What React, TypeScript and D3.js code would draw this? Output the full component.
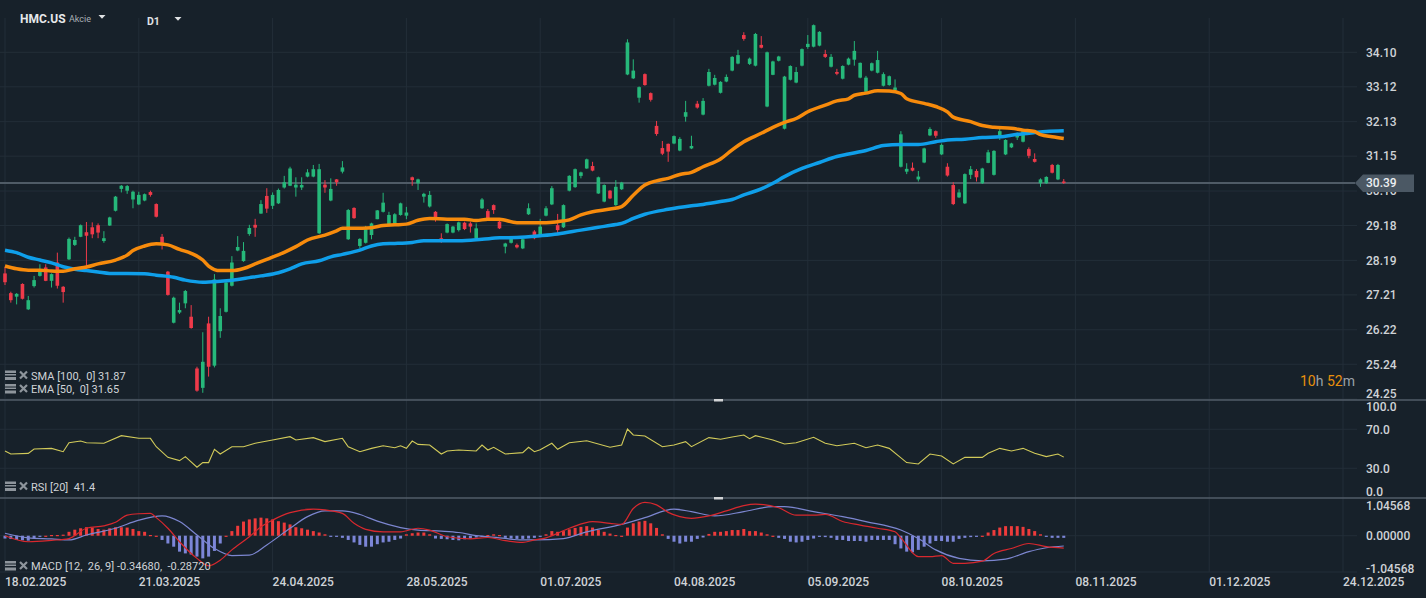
import React from 'react';
import * as d3 from 'd3';

// ---- data (HMC.US, D1) ----
const dateLabels = ['18.02.2025', '21.03.2025', '24.04.2025', '28.05.2025', '01.07.2025', '04.08.2025',
  '05.09.2025', '08.10.2025', '08.11.2025', '01.12.2025', '24.12.2025'];
const priceTicks = [34.10, 33.12, 32.13, 31.15, 30.16, 29.18, 28.19, 27.21, 26.22, 25.24, 24.25];
const rsiTicks = [100, 70, 30, 0];
const macdTicks = [1.04568, 0, -1.04568];

const open = [27.82, 27.26, 27.16, 27.52, 26.80, 27.46, 27.75, 27.99, 27.61, 28.13, 27.44, 28.22, 28.63, 28.86, 28.99, 29.13, 29.19, 28.74, 29.18, 29.60,
  30.22, 30.17, 29.92, 29.78, 29.89, 30.13, 29.79, 28.86, 27.87, 26.42, 26.71, 26.97, 26.59, 25.12, 24.57, 26.40, 25.20, 26.18, 26.73, 27.47,
  28.47, 28.17, 28.94, 29.20, 29.52, 30.02, 29.74, 29.81, 30.26, 30.31, 30.26, 30.26, 30.57, 30.57, 28.96, 30.34, 29.89, 30.49, 30.71, 28.79,
  29.68, 28.60, 28.69, 28.91, 29.36, 29.57, 29.22, 29.22, 29.48, 29.46, 30.55, 30.38, 30.00, 29.72, 29.57, 28.82, 28.98, 28.98, 29.05, 29.26,
  29.24, 28.82, 29.67, 29.59, 29.76, 29.29, 28.58, 28.69, 28.63, 28.53, 29.50, 29.01, 28.91, 29.46, 29.78, 29.19, 29.13, 30.17, 30.27, 30.59,
  30.80, 30.87, 30.09, 29.86, 30.17, 29.76, 30.21, 33.47, 33.36, 32.81, 33.48, 32.94, 32.01, 31.38, 31.50, 31.51, 31.31, 32.27, 31.37, 32.64,
  32.33, 33.15, 33.18, 32.95, 33.27, 33.58, 33.78, 34.59, 33.77, 33.72, 34.31, 32.56, 33.46, 33.86, 31.93, 33.32, 33.24, 33.72, 34.25, 34.26,
  34.29, 34.05, 33.69, 33.54, 33.35, 33.75, 33.89, 33.38, 32.98, 33.58, 33.52, 33.15, 33.17, 33.03, 30.85, 30.71, 30.82, 30.49, 30.97, 31.74,
  31.86, 31.20, 30.85, 30.33, 29.98, 29.81, 30.62, 30.73, 30.38, 30.96, 30.62, 31.72, 31.20, 31.40, 31.68, 31.56, 31.35, 31.07, 30.38, 30.38,
  30.90, 30.49, 30.43];
const high = [28.01, 27.30, 27.26, 27.54, 27.18, 27.75, 28.08, 28.08, 27.82, 28.41, 27.46, 28.84, 28.86, 29.21, 29.28, 29.27, 29.24, 29.02, 29.43, 30.02,
  30.33, 30.33, 30.17, 30.14, 30.09, 30.17, 29.81, 28.94, 27.89, 27.16, 26.99, 27.35, 26.92, 25.17, 26.15, 26.59, 27.80, 26.83, 27.59, 28.31,
  28.88, 28.71, 29.20, 29.37, 29.90, 30.24, 30.12, 30.23, 30.59, 30.85, 30.55, 30.55, 30.78, 30.90, 30.93, 30.47, 30.52, 30.50, 31.01, 29.65,
  29.70, 28.82, 29.17, 29.26, 29.62, 30.11, 29.57, 29.53, 29.83, 29.71, 30.57, 30.51, 30.11, 30.16, 29.59, 28.96, 29.24, 29.17, 29.29, 29.29,
  29.29, 29.24, 29.96, 29.65, 29.78, 29.31, 28.69, 28.88, 28.67, 28.82, 29.81, 29.05, 29.37, 29.73, 30.30, 29.51, 29.78, 30.61, 30.80, 30.71,
  31.08, 30.99, 30.57, 30.35, 30.19, 30.47, 30.42, 34.47, 33.90, 33.13, 33.50, 32.96, 32.15, 31.58, 31.51, 31.74, 31.69, 32.72, 31.73, 32.72,
  32.80, 33.63, 33.46, 33.28, 33.47, 33.99, 34.17, 34.67, 33.95, 34.65, 34.56, 34.12, 33.86, 34.00, 33.43, 33.73, 33.68, 34.21, 34.59, 34.89,
  34.70, 34.17, 34.05, 33.63, 33.73, 33.95, 34.42, 33.81, 33.43, 33.81, 34.14, 33.53, 33.44, 33.33, 31.86, 30.95, 30.97, 30.73, 31.39, 31.97,
  31.88, 31.51, 30.95, 30.41, 30.21, 30.66, 30.87, 30.78, 30.82, 31.33, 31.32, 31.94, 31.63, 31.53, 31.82, 31.91, 31.40, 31.23, 30.52, 30.58,
  30.93, 30.93, 30.50];
const low = [27.49, 26.99, 26.94, 27.08, 26.78, 27.42, 27.73, 27.60, 27.42, 27.39, 26.99, 28.20, 28.60, 28.85, 27.92, 28.82, 28.82, 28.69, 29.17, 29.58,
  30.12, 30.08, 29.67, 29.76, 29.87, 30.00, 29.41, 28.50, 27.19, 26.40, 26.67, 26.83, 26.25, 24.46, 24.43, 24.89, 25.15, 25.99, 26.71, 27.45,
  28.45, 28.15, 28.89, 28.86, 29.51, 29.54, 29.65, 29.79, 30.23, 30.30, 30.00, 30.19, 30.55, 30.55, 28.94, 30.11, 29.87, 30.31, 30.66, 28.77,
  29.37, 28.53, 28.67, 28.79, 29.36, 29.55, 29.20, 29.20, 29.46, 29.36, 30.31, 30.19, 29.83, 29.69, 29.29, 28.69, 28.96, 28.96, 29.01, 29.05,
  28.98, 28.79, 29.65, 29.36, 29.51, 29.08, 28.39, 28.67, 28.53, 28.51, 29.48, 28.79, 28.89, 29.44, 29.76, 28.96, 29.11, 30.15, 30.25, 30.52,
  30.79, 30.72, 30.08, 29.84, 29.93, 29.74, 30.19, 33.45, 33.34, 32.67, 33.15, 32.70, 31.73, 31.18, 30.99, 31.49, 31.29, 32.13, 31.35, 32.50,
  32.31, 33.13, 33.16, 32.93, 33.25, 33.56, 33.76, 34.43, 33.74, 33.70, 34.21, 32.54, 33.45, 33.84, 31.91, 33.30, 33.22, 33.70, 34.20, 34.24,
  34.27, 33.94, 33.67, 33.45, 33.33, 33.73, 33.72, 33.36, 32.96, 33.56, 33.50, 33.13, 33.15, 33.01, 30.83, 30.64, 30.72, 30.43, 30.95, 31.72,
  31.67, 31.18, 30.57, 29.76, 29.96, 29.79, 30.50, 30.43, 30.36, 30.95, 30.60, 31.61, 31.18, 31.38, 31.61, 31.54, 31.09, 30.97, 30.28, 30.36,
  30.66, 30.47, 30.36];
const close = [27.57, 27.06, 27.24, 27.10, 27.06, 27.63, 27.94, 27.61, 27.80, 27.47, 27.29, 28.80, 28.77, 29.19, 28.89, 28.93, 28.98, 28.82, 29.41, 30.00,
  30.31, 30.30, 30.14, 30.05, 30.07, 30.05, 29.43, 28.69, 27.21, 27.13, 26.78, 27.32, 26.27, 24.49, 25.31, 25.17, 27.65, 26.61, 27.56, 28.13,
  28.57, 28.46, 29.11, 29.12, 29.79, 29.66, 30.05, 30.19, 30.41, 30.80, 30.34, 30.33, 30.69, 30.78, 30.78, 30.26, 30.22, 30.41, 30.83, 29.62,
  29.39, 28.80, 29.13, 29.24, 29.61, 29.83, 29.48, 29.50, 29.81, 29.55, 30.47, 30.49, 30.08, 30.05, 29.38, 28.72, 29.22, 29.15, 29.27, 29.08,
  29.15, 29.10, 29.92, 29.38, 29.62, 29.10, 28.67, 28.86, 28.56, 28.79, 29.67, 28.82, 29.15, 29.67, 30.24, 29.05, 29.76, 30.59, 30.78, 30.69,
  31.06, 30.74, 30.55, 30.33, 29.95, 30.28, 30.40, 34.38, 33.58, 33.11, 33.17, 32.75, 31.78, 31.22, 31.28, 31.72, 31.64, 32.40, 31.44, 32.53,
  32.72, 33.54, 33.37, 33.26, 33.40, 33.97, 34.02, 34.48, 33.92, 34.62, 34.23, 34.10, 33.84, 33.98, 33.41, 33.71, 33.54, 34.19, 34.34, 34.87,
  34.68, 33.97, 33.97, 33.49, 33.71, 33.92, 34.14, 33.80, 33.38, 33.79, 33.88, 33.48, 33.42, 33.10, 31.77, 30.79, 30.74, 30.57, 31.37, 31.92,
  31.73, 31.47, 30.60, 29.79, 30.12, 30.64, 30.78, 30.55, 30.80, 31.26, 31.30, 31.86, 31.61, 31.51, 31.75, 31.89, 31.16, 30.99, 30.49, 30.56,
  30.68, 30.90, 30.39];

// SMA 100 and EMA 50 read as [bar, value]
const sma100: [number, number][] = [[0, 28.48], [2, 28.41], [4, 28.28], [6, 28.20], [8, 28.12], [10, 28.01], [12, 27.94], [14, 27.90], [16, 27.86],
  [18, 27.82], [21, 27.82], [24, 27.81], [26, 27.77], [29, 27.71], [31, 27.63], [34, 27.57], [37, 27.60], [40, 27.65], [42, 27.70], [44, 27.75],
  [47, 27.84], [49, 27.95], [51, 28.09], [54, 28.18], [56, 28.29], [58, 28.36], [61, 28.48], [63, 28.60], [65, 28.66], [67, 28.67], [70, 28.70],
  [72, 28.75], [75, 28.75], [78, 28.75], [82, 28.79], [85, 28.83], [88, 28.84], [92, 28.89], [95, 28.94], [99, 29.05], [102, 29.13], [105, 29.21],
  [106, 29.24], [108, 29.38], [110, 29.50], [114, 29.64], [118, 29.74], [120, 29.78], [123, 29.86], [125, 29.92], [127, 30.05], [130, 30.22],
  [132, 30.38], [134, 30.57], [137, 30.80], [140, 30.97], [143, 31.14], [145, 31.21], [148, 31.31], [151, 31.45], [154, 31.48], [157, 31.48],
  [160, 31.56], [162, 31.61], [165, 31.63], [168, 31.68], [171, 31.70], [174, 31.77], [177, 31.82], [179, 31.85], [182, 31.87]];
const ema50: [number, number][] = [[0, 28.03], [2, 27.95], [4, 27.91], [6, 27.91], [8, 27.89], [10, 27.88], [12, 27.95], [14, 28.00], [16, 28.09],
  [19, 28.20], [21, 28.34], [22, 28.47], [24, 28.60], [26, 28.66], [28, 28.63], [30, 28.50], [32, 28.39], [34, 28.20], [35, 28.03], [37, 27.90],
  [39, 27.90], [41, 27.96], [43, 28.09], [45, 28.22], [48, 28.42], [50, 28.58], [52, 28.77], [55, 28.91], [57, 29.03], [58, 29.10], [60, 29.10],
  [63, 29.12], [65, 29.18], [67, 29.20], [69, 29.22], [71, 29.33], [73, 29.38], [76, 29.36], [79, 29.36], [81, 29.32], [83, 29.36], [85, 29.36],
  [88, 29.26], [91, 29.26], [93, 29.26], [95, 29.29], [97, 29.34], [99, 29.48], [101, 29.57], [104, 29.65], [106, 29.72], [108, 30.04],
  [110, 30.33], [112, 30.45], [114, 30.52], [116, 30.63], [118, 30.69], [120, 30.85], [123, 31.07], [125, 31.33], [127, 31.56], [130, 31.80],
  [132, 31.97], [134, 32.11], [136, 32.22], [138, 32.41], [141, 32.60], [143, 32.72], [145, 32.78], [146, 32.88], [148, 32.94], [150, 33.01],
  [152, 33.00], [154, 32.93], [155, 32.78], [158, 32.65], [160, 32.56], [162, 32.41], [163, 32.26], [166, 32.13], [168, 32.02], [170, 31.97],
  [173, 31.94], [175, 31.89], [177, 31.85], [178, 31.76], [180, 31.70], [182, 31.65]];

// RSI 20
const rsi20: [number, number][] = [[0, 47.7], [1, 44.6], [4, 45.3], [5, 49.7], [8, 50.4], [10, 47.0], [11, 56.2], [13, 57.9], [14, 56.2], [17, 55.6],
  [20, 63.4], [23, 60.7], [25, 60.7], [26, 52.1], [28, 41.2], [30, 37.8], [31, 41.9], [33, 31.0], [34, 35.8], [35, 35.8], [36, 49.4], [37, 44.6],
  [39, 52.1], [41, 52.1], [43, 55.6], [46, 59.0], [49, 62.4], [50, 59.0], [53, 61.4], [55, 57.3], [58, 60.7], [59, 52.1], [61, 47.0], [63, 50.4],
  [65, 53.1], [67, 51.1], [68, 53.1], [69, 50.4], [70, 57.9], [71, 54.5], [73, 53.8], [75, 44.6], [76, 47.7], [78, 48.7], [81, 47.7], [82, 53.8],
  [83, 48.7], [84, 51.5], [86, 44.6], [89, 46.0], [90, 51.5], [91, 47.0], [92, 49.0], [94, 55.6], [95, 49.4], [97, 56.2], [100, 58.2], [104, 51.5],
  [106, 53.8], [107, 70.2], [108, 64.1], [110, 63.1], [113, 52.1], [115, 53.8], [117, 57.3], [118, 52.1], [121, 61.4], [123, 59.7], [125, 62.1],
  [127, 64.1], [128, 60.3], [129, 63.4], [132, 59.0], [134, 54.9], [136, 56.2], [139, 61.7], [141, 55.6], [143, 53.1], [146, 55.6], [148, 51.1],
  [150, 53.8], [152, 50.4], [155, 35.8], [157, 34.4], [159, 44.6], [161, 42.6], [163, 34.4], [165, 41.2], [168, 41.2], [169, 45.3], [171, 50.4],
  [173, 47.7], [175, 50.4], [177, 45.3], [179, 41.9], [181, 44.6], [182, 41.4]];

// MACD 12,26,9
const macdLine: [number, number][] = [[0, 0.0], [4, -0.17], [8, -0.13], [11, -0.08], [14, 0.21], [17, 0.28], [19, 0.38], [21, 0.58], [23, 0.62],
  [25, 0.63], [26, 0.51], [28, 0.21], [30, -0.17], [33, -0.64], [35, -0.85], [37, -0.69], [39, -0.40], [42, -0.03], [44, 0.25], [46, 0.44],
  [49, 0.65], [53, 0.75], [55, 0.73], [58, 0.63], [60, 0.35], [62, 0.18], [65, 0.11], [68, 0.11], [71, 0.21], [73, 0.16], [76, -0.03], [80, -0.09],
  [83, -0.05], [86, -0.14], [89, -0.19], [91, -0.12], [93, -0.06], [97, 0.21], [101, 0.40], [104, 0.35], [106, 0.32], [108, 0.77], [110, 0.94],
  [112, 0.87], [114, 0.66], [116, 0.54], [118, 0.49], [121, 0.56], [124, 0.70], [127, 0.85], [129, 0.89], [133, 0.79], [136, 0.58], [139, 0.58],
  [141, 0.60], [144, 0.40], [147, 0.30], [150, 0.21], [153, 0.11], [154, -0.06], [157, -0.59], [159, -0.59], [161, -0.56], [163, -0.78],
  [165, -0.78], [168, -0.72], [170, -0.50], [173, -0.36], [176, -0.22], [179, -0.31], [182, -0.35]];
const signalLine: [number, number][] = [[0, 0.07], [4, -0.06], [8, -0.09], [11, -0.12], [14, 0.02], [19, 0.21], [23, 0.44], [27, 0.56], [30, 0.40],
  [33, 0.02], [36, -0.36], [39, -0.56], [42, -0.55], [45, -0.26], [49, 0.21], [52, 0.54], [55, 0.70], [58, 0.70], [61, 0.60], [64, 0.41],
  [68, 0.23], [71, 0.16], [75, 0.13], [78, 0.09], [81, 0.0], [85, -0.06], [89, -0.12], [91, -0.12], [96, -0.08], [100, 0.11], [106, 0.32],
  [110, 0.51], [115, 0.75], [118, 0.68], [122, 0.56], [127, 0.68], [132, 0.82], [134, 0.82], [139, 0.68], [144, 0.54], [148, 0.40], [154, 0.16],
  [157, -0.08], [160, -0.40], [164, -0.64], [168, -0.71], [172, -0.66], [176, -0.45], [179, -0.34], [182, -0.29]];
const macdHist = [-0.08, -0.09, -0.12, -0.13, -0.14, -0.08, -0.03, 0.0, 0.02, 0.02, 0.03,
  0.11, 0.17, 0.21, 0.24, 0.23, 0.19, 0.17, 0.21, 0.24, 0.24, 0.23, 0.19, 0.13, 0.11, 0.02, 0.0,
  -0.12, -0.22, -0.31, -0.45, -0.50, -0.53, -0.59, -0.64, -0.59, -0.43, -0.22, 0.0,
  0.13, 0.28, 0.40, 0.46, 0.49, 0.51, 0.49, 0.46, 0.41, 0.37, 0.32, 0.24, 0.21, 0.17, 0.13, 0.09, 0.04, -0.02,
  -0.03, -0.06, -0.12, -0.19, -0.26, -0.31, -0.31, -0.24, -0.19, -0.17, -0.12, -0.08,
  0.04, 0.07, 0.09, 0.09, 0.04, -0.08, -0.09, -0.10, -0.12, -0.13, -0.10, -0.08, -0.05, -0.02,
  0.02, 0.04, 0.02, -0.06, -0.08, -0.09, -0.09, -0.08, -0.06, -0.03,
  0.04, 0.13, 0.11, 0.13, 0.18, 0.22, 0.25, 0.27, 0.23, 0.16, 0.11, 0.06, 0.02, 0.0,
  0.23, 0.35, 0.40, 0.42, 0.35, 0.22, 0.04, -0.09, -0.17, -0.22, -0.17, -0.17, -0.09, -0.05,
  0.05, 0.11, 0.11, 0.13, 0.16, 0.16, 0.19, 0.13, 0.13, 0.09, 0.04, 0.0,
  -0.06, -0.09, -0.17, -0.19, -0.17, -0.12, -0.08, -0.02, -0.04, -0.06, -0.12, -0.12, -0.15, -0.15, -0.15, -0.17, -0.12,
  -0.12, -0.12, -0.12, -0.24, -0.36, -0.45, -0.47, -0.40, -0.31, -0.22, -0.15, -0.15, -0.17, -0.17, -0.09, -0.06, -0.04,
  -0.02, 0.0, 0.09, 0.16, 0.23, 0.27, 0.27, 0.27, 0.25, 0.19, 0.13, 0.04, -0.02, -0.06, -0.06, -0.06];

const BG = '#17212a';
const GRID = '#232e38';
const SEP = '#525d68';
const TXT = '#cfd3d7';
const UP = '#26b87a';
const DOWN = '#ef3a4a';
const FONT = 'Roboto, sans-serif';
const PRE = { whiteSpace: 'pre' as const };

const LegendIcon = ({ y }: { y: number }) => (
  <g fill="#8e959c">
    <rect x={5} y={y - 5} width={11} height={2.5} />
    <rect x={5} y={y - 1.5} width={11} height={1.5} />
    <rect x={5} y={y + 1.5} width={11} height={3} />
    <path d={`M20,${y - 4} L27,${y + 3} M27,${y - 4} L20,${y + 3}`} stroke="#8e959c" strokeWidth={2.2} />
  </g>
);

export default function App() {
  const W = 1426, H = 598;
  const plotRight = 1357;
  const x = d3.scaleLinear().domain([0, 230]).range([5, 1343]);
  const yP = d3.scaleLinear().domain([24.225, 35.074]).range([400, 18]);
  const yR = d3.scaleLinear().domain([0, 100]).range([497.5, 400]);
  const yM = d3.scaleLinear().domain([-1.025, 1.065]).range([572, 498]);

  const smooth = (ys: d3.ScaleLinear<number, number>) =>
    d3.line<[number, number]>().x(d => x(d[0])).y(d => ys(d[1])).curve(d3.curveMonotoneX);
  const rsiPath = d3.line<[number, number]>().x(d => x(d[0])).y(d => yR(d[1]))(rsi20) || '';

  const last = close[close.length - 1];
  const yLast = yP(last);

  return (
    <div style={{ position: 'absolute', left: 0, top: 0 }}>
      <svg width={W} height={H} style={{ display: 'block', fontFamily: FONT }}>
        <rect width={W} height={H} fill={BG} />

        {/* vertical grid */}
        {dateLabels.map((_, k) => (
          <line key={'vg' + k} x1={x(k * 23)} x2={x(k * 23)} y1={18} y2={572} stroke={GRID} strokeWidth={1} />
        ))}
        {/* price grid */}
        {priceTicks.map(t => (
          <line key={'pg' + t} x1={0} x2={plotRight} y1={yP(t)} y2={yP(t)} stroke={GRID} strokeWidth={1} />
        ))}
        {/* rsi grid */}
        {[70, 30].map(t => (
          <line key={'rg' + t} x1={0} x2={plotRight} y1={yR(t)} y2={yR(t)} stroke={GRID} strokeWidth={1} />
        ))}
        <line x1={0} x2={plotRight} y1={yM(0)} y2={yM(0)} stroke={GRID} strokeWidth={1} />
        <line x1={0} x2={plotRight} y1={572} y2={572} stroke={GRID} strokeWidth={1} />

        {/* current price line */}
        <line x1={0} x2={1355} y1={yLast} y2={yLast} stroke="#4f5b66" strokeWidth={2} />

        {/* candles */}
        {close.map((c, i) => {
          const o = open[i];
          const up = c >= o;
          const col = up ? UP : DOWN;
          const cx = x(i);
          const top = yP(Math.max(o, c));
          const bot = yP(Math.min(o, c));
          return (
            <g key={'c' + i}>
              <line x1={cx} x2={cx} y1={yP(high[i])} y2={yP(low[i])} stroke={col} strokeWidth={1} />
              <rect x={cx - 1.8} y={top} width={3.6} height={Math.max(1.2, bot - top)} fill={col} />
            </g>
          );
        })}

        {/* moving averages */}
        <path d={smooth(yP)(sma100) || ''} fill="none" stroke="#0f9fea" strokeWidth={3.5} strokeLinejoin="round" />
        <path d={smooth(yP)(ema50) || ''} fill="none" stroke="#f78b0c" strokeWidth={3.5} strokeLinejoin="round" />

        {/* price axis labels */}
        {priceTicks.map(t => (
          <text key={'pl' + t} x={1366} y={Math.min(yP(t), 394) + 4.3} fill={TXT} fontSize={12} fontWeight={500}>
            {t.toFixed(2)}
          </text>
        ))}
        {/* last price tag */}
        <path d={`M1355,${yLast} L1363,${yLast - 8.5} L1414,${yLast - 8.5} L1414,${yLast + 9} L1363,${yLast + 9} Z`} fill="#4b5864" />
        <text x={1366} y={yLast + 4.5} fill="#eef0f2" fontSize={12} fontWeight={500}>{last.toFixed(2)}</text>

        {/* header */}
        <text x={20} y={23} fill="#e6e8ea" fontSize={12} fontWeight={700}>HMC.US</text>
        <text x={69} y={22} fill="#a9afb5" fontSize={9}>Akcie</text>
        <path d="M98.5,15 L105.5,15 L102,18.8 Z" fill="#e0e2e4" />
        <text x={147} y={24.5} fill="#e0e2e4" fontSize={10.5} fontWeight={700}>D1</text>
        <path d="M174.5,17 L181.5,17 L178,20.8 Z" fill="#e0e2e4" />

        {/* countdown */}
        <text x={1300} y={385.5} fontSize={14} style={PRE}>
          <tspan fill="#e8900c">10</tspan><tspan fill="#9aa1a8">h </tspan>
          <tspan fill="#e8900c">52</tspan><tspan fill="#9aa1a8">m</tspan>
        </text>

        {/* main legends */}
        <LegendIcon y={375.5} />
        <text x={31} y={379.5} fill={TXT} fontSize={11} style={PRE}>{`SMA [100,  0] ${sma100[sma100.length - 1][1].toFixed(2)}`}</text>
        <LegendIcon y={389} />
        <text x={31} y={393} fill={TXT} fontSize={11} style={PRE}>{`EMA [50,  0] ${ema50[ema50.length - 1][1].toFixed(2)}`}</text>

        {/* panel separators */}
        <line x1={0} x2={W} y1={400} y2={400} stroke={SEP} strokeWidth={1.5} />
        <line x1={0} x2={W} y1={498} y2={498} stroke={SEP} strokeWidth={1.5} />
        <rect x={714} y={399} width={9} height={2.5} fill="#d2d4d6" />
        <rect x={714} y={497} width={9} height={2.5} fill="#d2d4d6" />

        {/* RSI */}
        <path d={rsiPath} fill="none" stroke="#d2cb5a" strokeWidth={1.1} />
        {rsiTicks.map(t => (
          <text key={'rl' + t} x={1366} y={Math.max(407, Math.min(yR(t), 492)) + 4.3} fill={TXT} fontSize={12} fontWeight={500}>
            {t.toFixed(1)}
          </text>
        ))}
        <LegendIcon y={486.5} />
        <text x={31} y={490.5} fill={TXT} fontSize={11} style={PRE}>{`RSI [20]  ${rsi20[rsi20.length - 1][1].toFixed(1)}`}</text>

        {/* MACD histogram */}
        {macdHist.map((v, i) => {
          const y0 = yM(Math.max(v, 0));
          const y1 = yM(Math.min(v, 0));
          return (
            <rect key={'h' + i} x={x(i) - 1.5} y={y0} width={3}
              height={Math.max(1.2, y1 - y0)} fill={v >= 0 ? '#ee3b3b' : '#7c86d8'} />
          );
        })}
        <path d={smooth(yM)(signalLine) || ''} fill="none" stroke="#7c86d0" strokeWidth={1.2} />
        <path d={smooth(yM)(macdLine) || ''} fill="none" stroke="#d8282e" strokeWidth={1.2} />
        {macdTicks.map(t => (
          <text key={'ml' + t} x={1366} y={Math.max(506, Math.min(yM(t), 569)) + 4.3} fill={TXT} fontSize={12} fontWeight={500}>
            {t.toFixed(5)}
          </text>
        ))}
        <LegendIcon y={566} />
        <text x={31} y={570} fill={TXT} fontSize={11} style={PRE}>{'MACD [12,  26, 9] -0.34680,  -0.28720'}</text>

        {/* date labels */}
        {dateLabels.map((d, k) => (
          <text key={'d' + k} x={x(k * 23)} y={585.5} fill={TXT} fontSize={12} fontWeight={500}>{d}</text>
        ))}
      </svg>
    </div>
  );
}
